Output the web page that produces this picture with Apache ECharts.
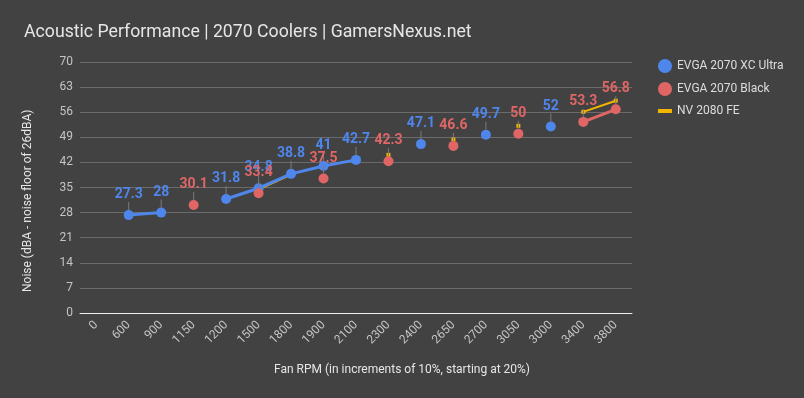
<!DOCTYPE html>
<html>
<head>
<meta charset="utf-8">
<script src="https://cdn.jsdelivr.net/npm/echarts@6/dist/echarts.min.js"></script>
<style>
  html, body { margin: 0; padding: 0; background: #424242; }
  #chart { width: 804px; height: 398px; }
</style>
</head>
<body>
<div id="chart"></div>
<script>
var rpm = ['0', '600', '900', '1150', '1200', '1500', '1800', '1900', '2100', '2300', '2400', '2650', '2700', '3050', '3000', '3400', '3800'];
var xcUltra = [null, 27.3, 28, null, 31.8, 34.8, 38.8, 41, 42.7, null, 47.1, null, 49.7, null, 52, null, null];
var black = [null, null, null, 30.1, null, 33.4, null, 37.5, null, 42.3, null, 46.6, null, 50, null, 53.3, 56.8];
var fe2080 = [null, null, null, null, null, 34.5, 38.6, null, null, 44.1, null, 48.4, null, 52.2, null, 56.1, 59.2];

var blue = '#4f86ec';
var red = '#e06666';
var yellow = '#f4b400';

// label with a thin guide line down to the point
function pointLabel(color) {
    return {
        show: true,
        position: 'top',
        distance: 0,
        formatter: function (p) { return '{v|' + p.value + '}\n{l| }'; },
        rich: {
            v: { color: color, fontSize: 14, fontWeight: 'bold', fontFamily: 'Roboto', lineHeight: 15, align: 'center' },
            l: { width: 1, height: 8, backgroundColor: '#7a7a7a', align: 'center', fontSize: 1 }
        }
    };
}

var chart = echarts.init(document.getElementById('chart'));
var option = {
    backgroundColor: '#424242',
    textStyle: { fontFamily: 'Roboto' },
    title: {
        text: 'Acoustic Performance | 2070 Coolers | GamersNexus.net',
        left: 19,
        top: 19,
        textStyle: { color: '#e6e6e6', fontSize: 17.7, fontWeight: 'normal', fontFamily: 'Roboto' }
    },
    legend: {
        orient: 'vertical',
        left: 653,
        top: 54,
        itemGap: 9,
        itemWidth: 14,
        itemHeight: 14,
        textStyle: { color: '#dddddd', fontSize: 12, fontFamily: 'Roboto' },
        data: [
            { name: 'EVGA 2070 XC Ultra', icon: 'circle' },
            { name: 'EVGA 2070 Black', icon: 'circle' },
            { name: 'NV 2080 FE', icon: 'path://M0,6h14v4h-14z' }
        ]
    },
    grid: { left: 80, top: 62, width: 552, height: 251 },
    xAxis: {
        type: 'category',
        data: rpm,
        boundaryGap: true,
        axisLine: { lineStyle: { color: '#eeeeee', width: 1 } },
        axisTick: { show: false },
        axisLabel: { rotate: 45, color: '#c4c4c4', fontSize: 12, margin: 10 }
    },
    yAxis: {
        type: 'value',
        min: 0,
        max: 70,
        interval: 7,
        axisLine: { show: false },
        axisTick: { show: false },
        axisLabel: { color: '#c4c4c4', fontSize: 12, margin: 7 },
        splitLine: { lineStyle: { color: '#6b6b6b', width: 1 } }
    },
    graphic: [
        {
            type: 'text',
            left: 'center',
            top: 364,
            style: { text: 'Fan RPM (in increments of 10%, starting at 20%)', fill: '#e6e6e6', fontSize: 12, fontFamily: 'Roboto' },
            x: -65
        },
        {
            type: 'text',
            x: 22,
            y: 292,
            rotation: Math.PI / 2,
            style: { text: 'Noise (dBA - noise floor of 26dBA)', fill: '#e6e6e6', fontSize: 12, fontFamily: 'Roboto' }
        }
    ],
    series: [
        {
            name: 'EVGA 2070 XC Ultra',
            type: 'line',
            data: xcUltra,
            symbol: 'circle',
            symbolSize: 10,
            showSymbol: true,
            connectNulls: false,
            itemStyle: { color: blue },
            lineStyle: { color: blue, width: 3 },
            label: pointLabel(blue),
            z: 3
        },
        {
            name: 'EVGA 2070 Black',
            type: 'line',
            data: black,
            symbol: 'circle',
            symbolSize: 10,
            showSymbol: true,
            connectNulls: false,
            itemStyle: { color: red },
            lineStyle: { color: red, width: 3 },
            label: pointLabel(red),
            z: 4
        },
        {
            name: 'NV 2080 FE',
            type: 'line',
            data: fe2080,
            symbol: 'rect',
            symbolSize: 4,
            showSymbol: true,
            connectNulls: false,
            itemStyle: { color: yellow },
            lineStyle: { color: yellow, width: 2 },
            z: 2
        }
    ]
};
chart.setOption(option);
</script>
</body>
</html>
